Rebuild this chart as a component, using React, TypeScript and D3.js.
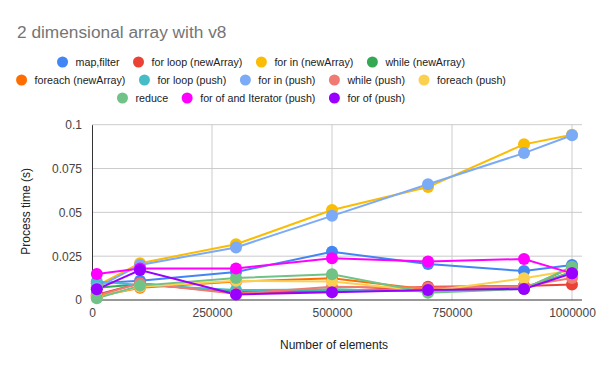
import React, { useEffect, useRef } from 'react';
import * as d3 from 'd3';

const elements = [10000, 100000, 300000, 500000, 700000, 900000, 1000000];

const seriesNames = [
  'map,filter',
  'for loop (newArray)',
  'for in (newArray)',
  'while (newArray)',
  'foreach (newArray)',
  'for loop (push)',
  'for in (push)',
  'while (push)',
  'foreach (push)',
  'reduce',
  'for of and Iterator (push)',
  'for of (push)',
];

const seriesColors = [
  '#4285F4', '#EA4335', '#FBBC04', '#34A853', '#FF6D01', '#46BDC6',
  '#7BAAF7', '#F07B72', '#FCD04F', '#71C287', '#FF00FF', '#9900FF',
];

const mapFilter = [0.0095, 0.011, 0.016, 0.0275, 0.0205, 0.0165, 0.02];
const forLoopNew = [0.003, 0.0095, 0.004, 0.005, 0.0075, 0.008, 0.0088];
const forInNew = [0.008, 0.021, 0.0318, 0.0513, 0.0645, 0.0888, 0.0943];
const whileNew = [0.007, 0.009, 0.005, 0.006, 0.005, 0.0065, 0.0185];
const foreachNew = [0.002, 0.007, 0.0105, 0.0124, 0.006, 0.007, 0.016];
const forLoopPush = [0.0105, 0.0085, 0.0057, 0.006, 0.005, 0.0065, 0.016];
const forInPush = [0.007, 0.02, 0.03, 0.048, 0.066, 0.0838, 0.094];
const whilePush = [0.0025, 0.0095, 0.0035, 0.0075, 0.007, 0.008, 0.0125];
const foreachPush = [0.0015, 0.0075, 0.011, 0.0105, 0.005, 0.0124, 0.017];
const reduce = [0.001, 0.0082, 0.0125, 0.0147, 0.0042, 0.0063, 0.019];
const forOfIterator = [0.0148, 0.018, 0.018, 0.0238, 0.0219, 0.0234, 0.0152];
const forOfPush = [0.0061, 0.0171, 0.0032, 0.0044, 0.0057, 0.0063, 0.0152];

const seriesValues = [
  mapFilter, forLoopNew, forInNew, whileNew, foreachNew, forLoopPush,
  forInPush, whilePush, foreachPush, reduce, forOfIterator, forOfPush,
];

const yTicks = [0, 0.025, 0.05, 0.075, 0.1];
const xTicks = [0, 250000, 500000, 750000, 1000000];
const legendRows = [[0, 1, 2, 3], [4, 5, 6, 7, 8], [9, 10, 11]];

const App = () => {
  const svgRef = useRef<SVGSVGElement>(null);

  useEffect(() => {
    const width = 600;
    const height = 371;
    const left = 92;
    const right = 582;
    const top = 124.7;
    const bottom = 300;
    const font = '"Liberation Sans", Arial, sans-serif';

    const svg = d3.select(svgRef.current);
    svg.selectAll('*').remove();
    svg.attr('width', width).attr('height', height).style('font-family', font);

    svg.append('rect').attr('width', width).attr('height', height).attr('fill', '#fff');

    const x = d3.scaleLinear().domain([0, 1000000]).range([left, 572]);
    const y = d3.scaleLinear().domain([0, 0.1]).range([bottom, top]);

    // title
    svg.append('text')
      .attr('x', 17).attr('y', 38)
      .attr('font-size', 17.3).attr('fill', '#757575')
      .text('2 dimensional array with v8');

    // legend, each row centred around x=261
    legendRows.forEach((row, ri) => {
      const cy = 62 + ri * 18;
      const g = svg.append('g');
      let cursor = 0;
      row.forEach((si, k) => {
        if (k > 0) cursor += 19;
        g.append('circle').attr('cx', cursor).attr('cy', cy).attr('r', 5.5).attr('fill', seriesColors[si]);
        const t = g.append('text')
          .attr('x', cursor + 13).attr('y', cy + 4)
          .attr('font-size', 10.7).attr('fill', '#222')
          .text(seriesNames[si]);
        const w = (t.node() as SVGTextElement).getComputedTextLength();
        cursor += 13 + w;
      });
      const total = cursor + 5.5;
      g.attr('transform', `translate(${261 - total / 2 + 5.5},0)`);
    });

    // grid
    svg.append('g').selectAll('line').data(yTicks.slice(1)).enter().append('line')
      .attr('x1', left).attr('x2', right)
      .attr('y1', (d) => y(d)).attr('y2', (d) => y(d))
      .attr('stroke', '#ccc').attr('stroke-width', 1);
    svg.append('g').selectAll('line').data(xTicks.slice(1)).enter().append('line')
      .attr('x1', (d) => x(d)).attr('x2', (d) => x(d))
      .attr('y1', top).attr('y2', bottom)
      .attr('stroke', '#ccc').attr('stroke-width', 1);

    // axes
    const yAxis = svg.append('g')
      .attr('transform', `translate(${left},0)`)
      .call(d3.axisLeft(y).tickValues(yTicks).tickSize(0).tickPadding(10).tickFormat((d) => String(+d)));
    yAxis.select('.domain').attr('stroke', '#333');
    yAxis.selectAll('text').attr('font-size', 12).attr('fill', '#444').attr('font-family', font);

    const xAxis = svg.append('g')
      .attr('transform', `translate(0,${bottom})`)
      .call(d3.axisBottom(x).tickValues(xTicks).tickSize(0).tickPadding(8).tickFormat((d) => String(+d)));
    xAxis.select('.domain').remove();
    xAxis.selectAll('text').attr('font-size', 12).attr('fill', '#444').attr('font-family', font);
    svg.append('line')
      .attr('x1', left).attr('x2', right).attr('y1', bottom).attr('y2', bottom)
      .attr('stroke', '#333').attr('stroke-width', 1);

    // axis titles
    svg.append('text')
      .attr('x', 334).attr('y', 349)
      .attr('text-anchor', 'middle').attr('font-size', 12).attr('fill', '#222')
      .text('Number of elements');
    svg.append('text')
      .attr('transform', `translate(30,${(top + bottom) / 2 - 1}) rotate(-90)`)
      .attr('text-anchor', 'middle').attr('font-size', 12).attr('fill', '#222')
      .text('Process time (s)');

    // lines and points
    const line = d3.line<number>()
      .x((_, i) => x(elements[i]))
      .y((d) => y(d));

    seriesValues.forEach((vals, si) => {
      svg.append('path')
        .attr('d', line(vals))
        .attr('fill', 'none')
        .attr('stroke', seriesColors[si])
        .attr('stroke-width', 2);
    });
    seriesValues.forEach((vals, si) => {
      svg.append('g').selectAll('circle').data(vals).enter().append('circle')
        .attr('cx', (_, i) => x(elements[i]))
        .attr('cy', (d) => y(d))
        .attr('r', 6)
        .attr('fill', seriesColors[si]);
    });
  }, []);

  return <svg ref={svgRef} style={{ display: 'block', position: 'absolute', left: 0, top: 0 }}></svg>;
};

export default App;
